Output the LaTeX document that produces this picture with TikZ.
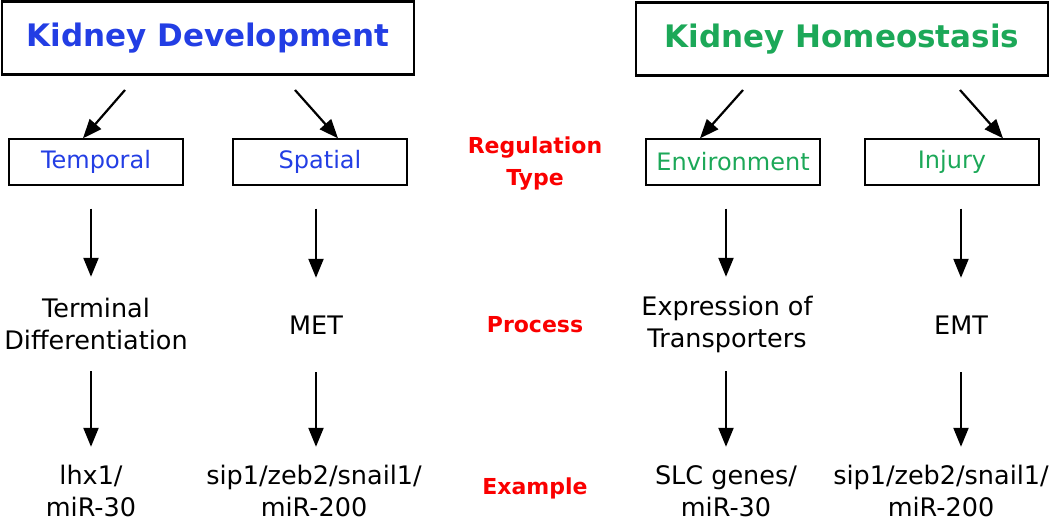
\documentclass[tikz,border=0pt]{standalone}
\usepackage{fontspec}
\setmainfont{DejaVu Sans}
\usetikzlibrary{arrows.meta}
\definecolor{devblue}{RGB}{35,62,228}
\definecolor{homgreen}{RGB}{28,168,88}
\definecolor{labred}{RGB}{250,0,0}

\begin{document}
\begin{tikzpicture}[x=1pt,y=-1pt,
  big box/.style={draw,line width=2.4pt,minimum width=412pt,minimum height=73pt,font=\fontsize{31}{36}\selectfont\bfseries},
  small box/.style={draw,line width=1.4pt,minimum width=174pt,minimum height=46pt,font=\fontsize{24}{30}\selectfont},
  plain text/.style={align=center,minimum height=70pt,font=\fontsize{25.5}{32}\selectfont},
  type label/.style={align=center,text=labred,font=\fontsize{22}{32}\selectfont\bfseries},
  arr/.style={draw,-{Triangle[length=19pt,width=15pt]},line width=2.2pt}]

  \useasboundingbox (0,0) rectangle (1050,521);

  % headings
  \node[big box,text=devblue] (dev) at (208,38) {Kidney Development};
  \node[big box,text=homgreen] (hom) at (842,39) {Kidney Homeostasis};

  % regulation type
  \node[small box,text=devblue] (temp) at (96,162) {Temporal};
  \node[small box,text=devblue] (spat) at (320,162) {Spatial};
  \node[small box,text=homgreen] (env) at (733,162) {Environment};
  \node[small box,text=homgreen] (inj) at (952,162) {Injury};

  % process
  \node[plain text] (term) at (96,324) {Terminal\\Differentiation};
  \node[plain text] (met) at (316,325) {MET};
  \node[plain text] (expr) at (727,324) {Expression of\\Transporters};
  \node[plain text] (emt) at (961,325) {EMT};

  % example
  \node[plain text] (lhx) at (91,491) {lhx1/\\miR-30};
  \node[plain text] (sipa) at (314,491) {sip1/zeb2/snail1/\\miR-200};
  \node[plain text] (slc) at (726,491) {SLC genes/\\miR-30};
  \node[plain text] (sipb) at (941,491) {sip1/zeb2/snail1/\\miR-200};

  % row labels
  \node[type label] (regtype) at (535,164) {Regulation\\Type};
  \node[type label] (proc) at (535,325) {Process};
  \node[type label] (examp) at (535,488) {Example};

  \coordinate (d1) at (125,90);
  \coordinate (d2) at (295,90);
  \coordinate (h1) at (743,90);
  \coordinate (h2) at (960,90);

  \path
   (d1) edge[arr] (temp.north -| 83,0)
   (d2) edge[arr] (spat.north -| 338,0)
   (h1) edge[arr] (env.north -| 700,0)
   (h2) edge[arr] (inj.north -| 1003,0);

  \path
   (temp.south -| lhx) edge[arr,shorten <=23pt,shorten >=12pt] (term.north -| lhx)
   (spat.south -| met) edge[arr,shorten <=23pt,shorten >=12pt] (met.north)
   (env.south -| slc) edge[arr,shorten <=23pt,shorten >=12pt] (expr.north -| slc)
   (inj.south -| emt) edge[arr,shorten <=23pt,shorten >=12pt] (emt.north);

  \path
   (term.south -| lhx) edge[arr,shorten <=12pt,shorten >=9pt] (lhx)
   (met.south) edge[arr,shorten <=12pt,shorten >=9pt] (sipa.north -| met)
   (expr.south -| slc) edge[arr,shorten <=12pt,shorten >=9pt] (slc)
   (emt.south) edge[arr,shorten <=12pt,shorten >=9pt] (sipb.north -| emt);
\end{tikzpicture}
\end{document}
